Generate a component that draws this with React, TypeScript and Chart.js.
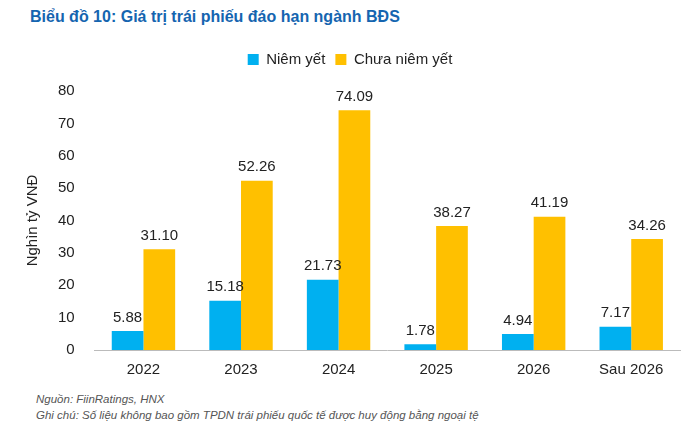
import React, { useEffect, useRef } from "react";
import { Chart, registerables } from "chart.js";
Chart.register(...registerables);

const categories = ["2022", "2023", "2024", "2025", "2026", "Sau 2026"];
const listed = [5.88, 15.18, 21.73, 1.78, 4.94, 7.17];
const unlisted = [31.1, 52.26, 74.09, 38.27, 41.19, 34.26];
const yTicks = [0, 10, 20, 30, 40, 50, 60, 70, 80];

const labelPlugin = {
  id: "labels",
  beforeInit(chart: any) {
    const lg = chart.legend;
    if (lg) {
      const orig = lg.fit.bind(lg);
      lg.fit = function () { orig(); this.height += 14; };
    }
  },
  afterDatasetsDraw(chart: any) {
    const ctx = chart.ctx;
    ctx.save();
    ctx.font = "15px 'Liberation Sans', Arial, sans-serif";
    ctx.fillStyle = "#222";
    ctx.textAlign = "center";
    ctx.textBaseline = "bottom";
    chart.data.datasets.forEach((ds: any, i: number) => {
      chart.getDatasetMeta(i).data.forEach((bar: any, j: number) => {
        ctx.fillText(ds.data[j].toFixed(2), bar.x, bar.y - 6);
      });
    });
    ctx.restore();
  },
};

export default function App() {
  const ref = useRef<HTMLCanvasElement>(null);
  useEffect(() => {
    const chart = new Chart(ref.current!, {
      type: "bar",
      data: {
        labels: categories,
        datasets: [
          { label: "Niêm yết", data: listed, backgroundColor: "#00b0f0" },
          { label: "Chưa niêm yết", data: unlisted, backgroundColor: "#ffc000" },
        ],
      },
      options: {
        animation: false,
        responsive: false,
        layout: { padding: { left: 10, right: 10, top: 0 } },
        plugins: {
          legend: {
            position: "top",
            labels: { boxWidth: 11, boxHeight: 11, font: { size: 15, family: "'Liberation Sans', Arial" }, color: "#222" },
          },
          tooltip: { enabled: false },
        },
        datasets: { bar: { categoryPercentage: 0.65, barPercentage: 1 } },
        scales: {
          x: {
            grid: { display: false },
            border: { color: "#bbb" },
            ticks: { font: { size: 15, family: "'Liberation Sans', Arial" }, color: "#222" },
          },
          y: {
            min: 0,
            max: 80,
            afterBuildTicks: (ax: any) => { ax.ticks = yTicks.map((v) => ({ value: v })); },
            grid: { display: false },
            border: { display: false },
            ticks: { font: { size: 15, family: "'Liberation Sans', Arial" }, color: "#222", padding: 12 },
            title: { display: true, text: "Nghìn tỷ VNĐ", font: { size: 15, family: "'Liberation Sans', Arial" }, color: "#222" },
          },
        },
      },
      plugins: [labelPlugin],
    } as any);
    return () => chart.destroy();
  }, []);
  const font = "'Liberation Sans', Arial, sans-serif";
  return (
    <div style={{ position: "absolute", left: 0, top: 0, width: 700, height: 446, background: "#fff", fontFamily: font }}>
      <div style={{ position: "absolute", left: 30, top: 8, fontSize: 16, fontWeight: "bold", color: "#1565b0" }}>
        Biểu đồ 10: Giá trị trái phiếu đáo hạn ngành BĐS
      </div>
      <canvas ref={ref} width={680} height={340} style={{ position: "absolute", left: 10, top: 42 }} />
      <div style={{ position: "absolute", left: 36, top: 393, fontSize: 11.5, fontStyle: "italic", color: "#555" }}>
        Nguồn: FiinRatings, HNX
      </div>
      <div style={{ position: "absolute", left: 36, top: 409, fontSize: 11.5, fontStyle: "italic", color: "#555" }}>
        Ghi chú: Số liệu không bao gồm TPDN trái phiếu quốc tế được huy động bằng ngoại tệ
      </div>
    </div>
  );
}
